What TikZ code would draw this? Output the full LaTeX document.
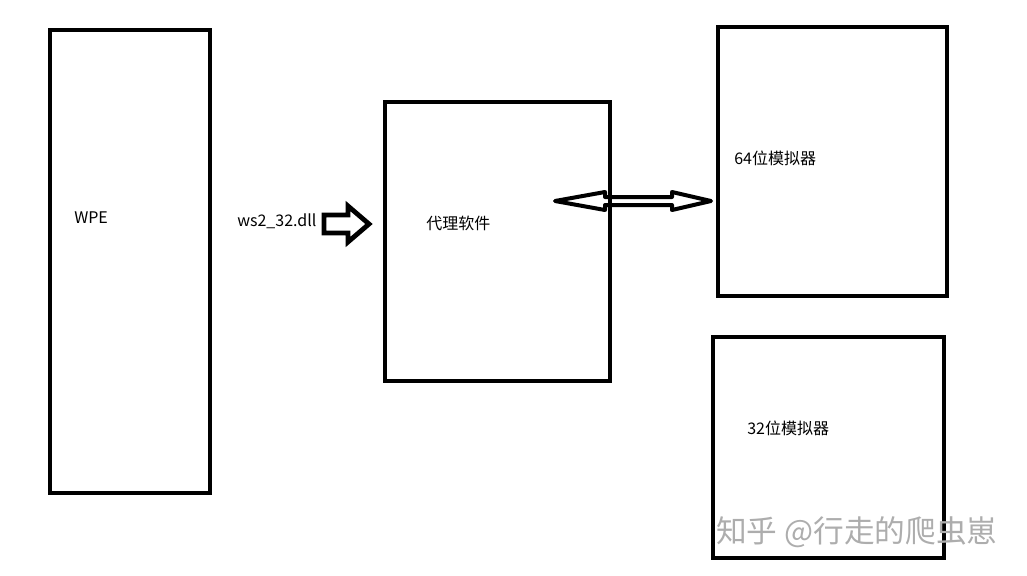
\documentclass[tikz,border=0pt]{standalone}
\usepackage{fontspec}
\setmainfont{Noto Sans CJK SC}
\newfontfamily\cjk{Noto Sans CJK SC}
\usetikzlibrary{positioning}

\tikzset{
  lbl/.style={inner sep=0pt, font=\cjk\fontsize{12}{14}\selectfont},
  wmark/.style={inner sep=0pt, text=black!32, font=\cjk\fontsize{23}{26}\selectfont}
}

\begin{document}
\begin{tikzpicture}[x=0.75pt,y=-0.75pt]

\useasboundingbox (0,0) rectangle (1027,575);

% boxes
\coordinate (wpeA) at (50,30);   \coordinate (wpeB) at (210,493);
\coordinate (proA) at (385,102); \coordinate (proB) at (610,381);
\coordinate (s64A) at (718,27);  \coordinate (s64B) at (947,296);
\coordinate (s32A) at (713,337); \coordinate (s32B) at (944,558);

\foreach \b in {wpe,pro,s64,s32}
{
\draw[line width=3pt] (\b A) rectangle (\b B);
}

% labels
\node[lbl,anchor=west] (twpe) at (74,218) {WPE};
\node[lbl,anchor=west] (tdll) at (237,221) {ws2\_32.dll};
\node[lbl,anchor=west] (tpro) at (426,223) {代理软件};
\node[lbl,anchor=west] (t64) at (734,158) {64位模拟器};
\node[lbl,anchor=west] (t32) at (747,428) {32位模拟器};

% hollow arrows
\draw[line width=3.6pt,line join=miter] (324,215)--(348,215)--(348,206)--(369,224)--(348,242)--(348,233)--(324,233)--cycle;
\draw[line width=3pt,line join=round] (555,201)--(605,192)--(605,197)--(672,197)--(672,192)--(711,201)
  --(672,210)--(672,205)--(605,205)--(605,210)--cycle;

% watermark
\node[wmark,anchor=west] (wm) at (716,532) {知乎 @行走的爬虫崽};

\end{tikzpicture}
\end{document}
